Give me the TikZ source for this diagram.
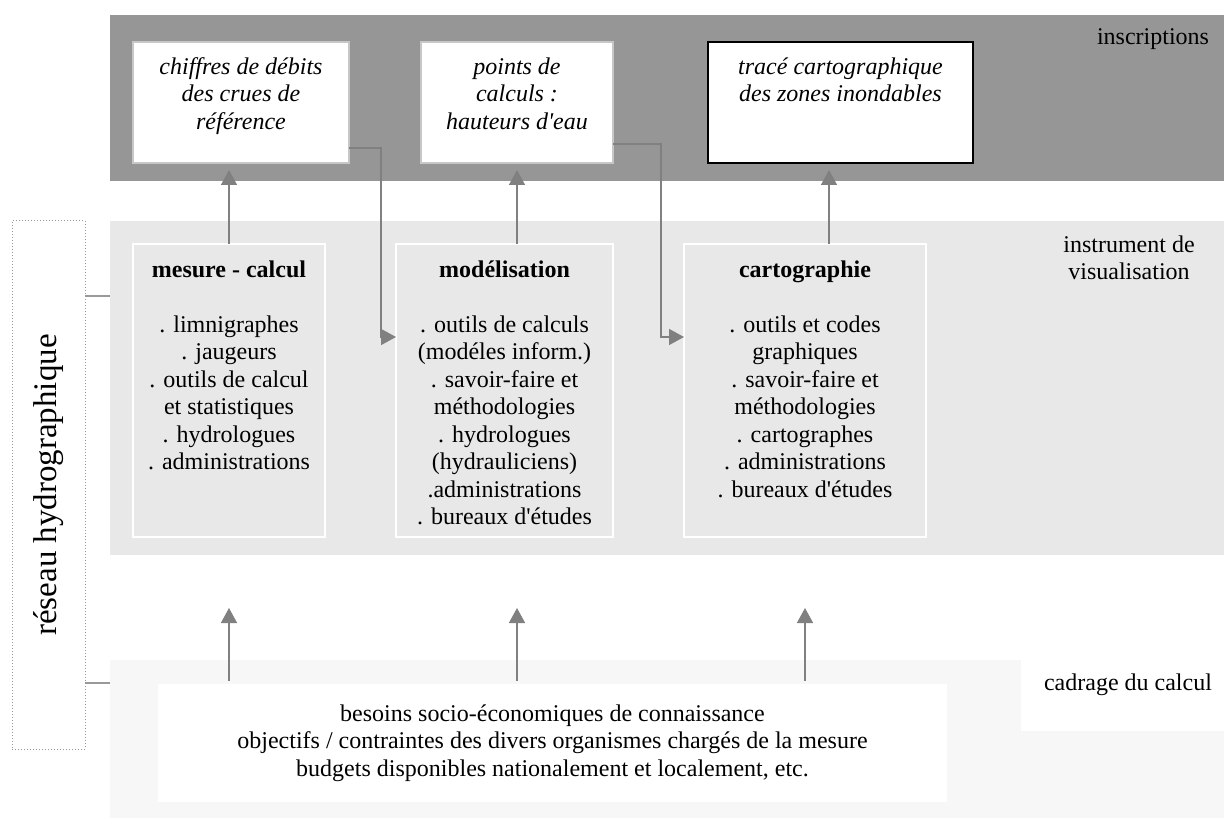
\documentclass[tikz,border=0pt]{standalone}
\usepackage{fontspec}
\setmainfont{Liberation Serif}
\usetikzlibrary{positioning,arrows.meta}

\definecolor{inscrgray}{gray}{0.59}
\definecolor{visugray}{gray}{0.91}
\definecolor{cadragegray}{gray}{0.97}
\definecolor{arrowgray}{gray}{0.5}
\definecolor{boxline}{gray}{0.78}
\definecolor{linkgray}{gray}{0.6}

\begin{document}
\begin{tikzpicture}[x=1pt, y=-1pt,
    every node/.style = {inner sep=0pt, outer sep=0pt, align=center,
                         font=\fontsize{24}{27.5}\selectfont},
    band/.style = {anchor=north west, fill=#1, minimum width=1114},
    inscrbox/.style = {draw=#1, line width=2pt, fill=white, minimum height=121},
    instrbox/.style = {draw=white, line width=1.5pt, minimum height=293},
    itext/.style = {font=\fontsize{24}{27.5}\selectfont\itshape},
    arr/.style = {draw=arrowgray, line width=1.5pt,
                  -{Triangle[length=15pt,width=16pt]}},
    link/.style = {draw=linkgray, line width=1.5pt}]
  \useasboundingbox (0,0) rectangle (1224,818);

  % the three levels
  \node[band=inscrgray, minimum height=166] (inscr) at (110,15) {};
  \node[band=visugray, minimum height=334] (visu) at (110,221) {};
  \node[band=cadragegray, minimum height=158] (cadrage) at (110,660) {};

  \node[anchor=base] (inscrlabel) at (1153,45) {inscriptions};
  \node[anchor=north] (visulabel) at (1129,235.5) {instrument de\\visualisation};
  \node[fill=white, minimum width=203, minimum height=71] (cadragebox) at (1122.5,695.5) {};
  \node[anchor=base] (cadragelabel) at (1128,690) {cadrage du calcul};

  % inscriptions
  \node[inscrbox=boxline, minimum width=216] (chiffres) at (241,102.5) {};
  \node[inscrbox=boxline, minimum width=192] (points) at (517,102.5) {};
  \node[inscrbox=black, minimum width=265] (trace) at (840.5,102.5) {};
  \node[itext, below=15.5pt of chiffres.north] {chiffres de débits\\des crues de\\référence};
  \node[itext, below=15.5pt of points.north] {points de\\calculs :\\hauteurs d\textquotesingle eau};
  \node[itext, below=15.5pt of trace.north] {tracé cartographique\\des zones inondables};

  % instruments
  \node[instrbox, minimum width=192] (mesure) at (229,390.5) {};
  \node[instrbox, minimum width=217] (modelisation) at (504.5,390.5) {};
  \node[instrbox, minimum width=242] (cartographie) at (805,390.5) {};
  \node[below=16.5pt of mesure.north] {\textbf{mesure - calcul}\\[27.5pt]
    . limnigraphes\\. jaugeurs\\. outils de calcul\\et statistiques\\
    . hydrologues\\. administrations};
  \node[below=16.5pt of modelisation.north] {\textbf{modélisation}\\[27.5pt]
    . outils de calculs\\(modéles inform.)\\. savoir-faire et\\méthodologies\\
    . hydrologues\\(hydrauliciens)\\.administrations\\. bureaux d\textquotesingle études};
  \node[below=16.5pt of cartographie.north] {\textbf{cartographie}\\[27.5pt]
    . outils et codes\\graphiques\\. savoir-faire et\\méthodologies\\
    . cartographes\\. administrations\\. bureaux d\textquotesingle études};

  % cadrage
  \node[fill=white, minimum width=789, minimum height=118] (besoins) at (552.5,743)
    {besoins socio-économiques de connaissance\\
     objectifs / contraintes des divers organismes chargés de la mesure\\
     budgets disponibles nationalement et localement, etc.};

  % reseau
  \node[draw=linkgray, dotted, line width=1pt, minimum width=73, minimum height=528]
    (reseau) at (48.5,485)
    {\rotatebox{90}{\fontsize{33}{36}\selectfont réseau hydrographique}};
  \draw[link] (reseau.east |- 0,296) -- (visu.west |- 0,296);
  \draw[link] (reseau.east |- 0,683) -- (cadrage.west |- 0,683);

  % arrows
  \draw[arr, shorten >=7pt] (mesure.north) -- (mesure.north |- chiffres.south);
  \draw[arr, shorten >=7pt] (points.south |- modelisation.north) -- (points.south);
  \draw[arr, shorten >=7pt] ([xshift=24pt]cartographie.north)
    -- ([xshift=24pt]cartographie.north |- trace.south);
  \draw[arr] ([yshift=-45.5pt]chiffres.east) -- ++(32,0)
    |- ([yshift=53.5pt]modelisation.west);
  \draw[arr] ([yshift=-41.5pt]points.east) -- ++(48,0)
    |- ([yshift=53.5pt]cartographie.west);
  \draw[arr, shorten <=3pt, shorten >=71pt] (mesure.south |- besoins.north) -- (mesure.south);
  \draw[arr, shorten <=3pt, shorten >=71pt] (points.south |- besoins.north)
    -- (points.south |- modelisation.south);
  \draw[arr, shorten <=3pt, shorten >=71pt] (cartographie.south |- besoins.north)
    -- (cartographie.south);
\end{tikzpicture}
\end{document}
